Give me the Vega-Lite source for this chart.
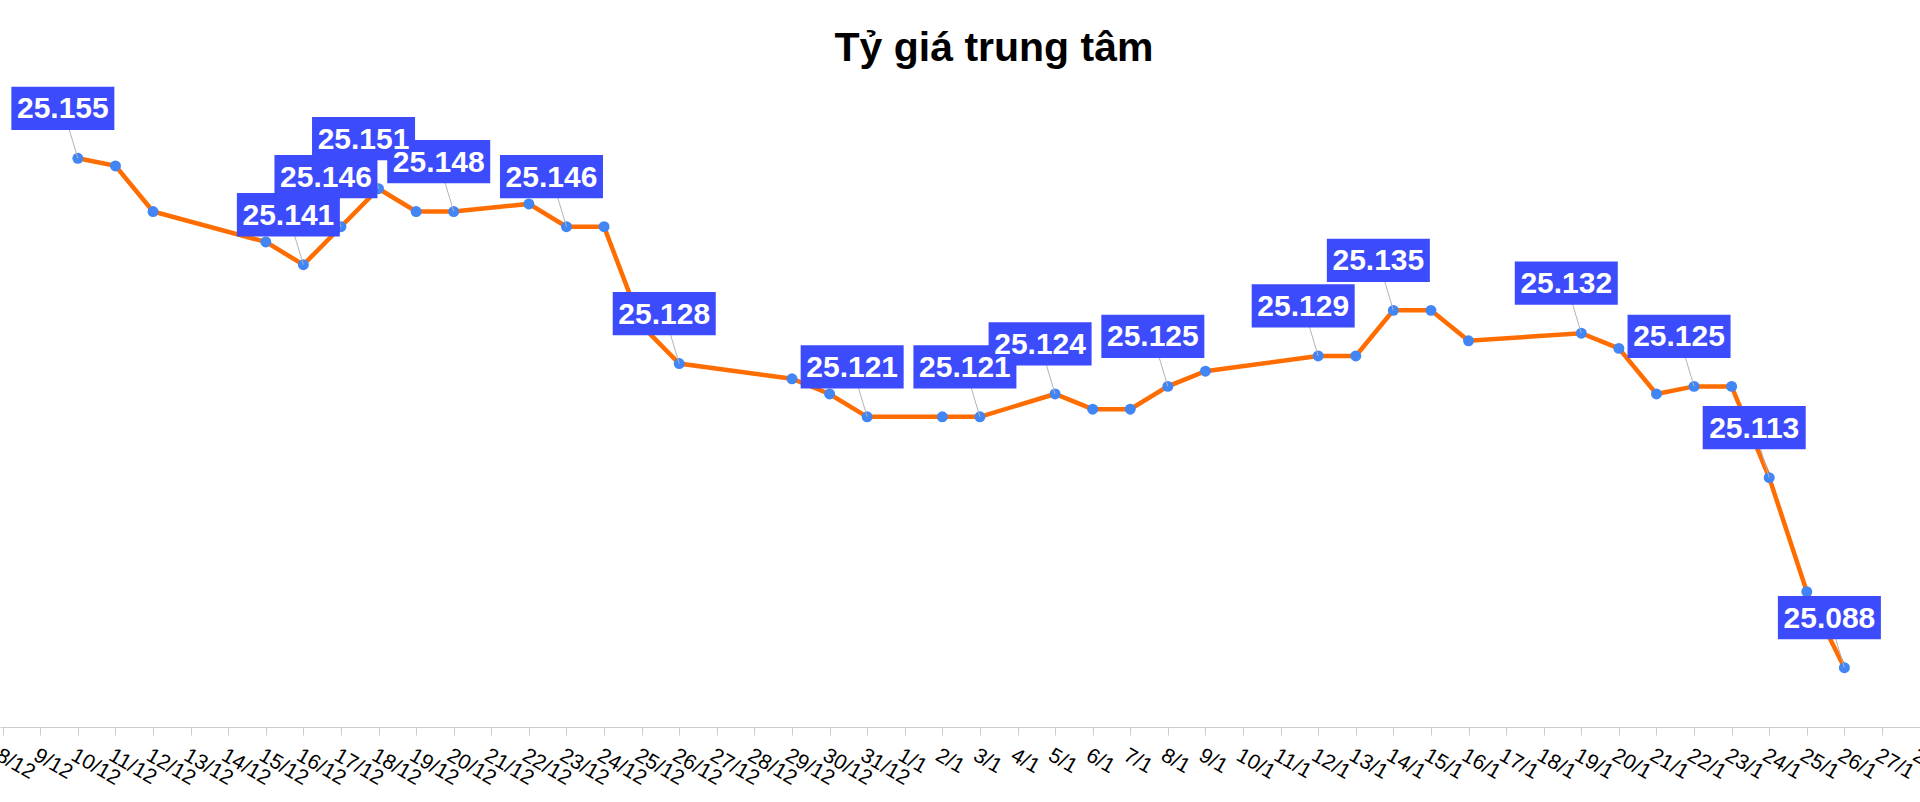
{
  "$schema": "https://vega.github.io/schema/vega-lite/v6.json",
  "width": 1920,
  "height": 667,
  "autosize": {"type": "none"},
  "padding": {"left": 0, "top": 60, "right": 0, "bottom": 75},
  "background": "white",
  "config": {"view": {"stroke": null}, "font": "Liberation Sans"},
  "title": {"text": "Tỷ giá trung tâm", "fontSize": 41, "fontWeight": "bold", "font": "Liberation Sans", "color": "#000000", "anchor": "middle", "dx": 34, "offset": -10},
  "data": {"values": [
    {"date": "2025-12-10", "value": 25.155, "label": true},
    {"date": "2025-12-11", "value": 25.154, "label": false},
    {"date": "2025-12-12", "value": 25.148, "label": false},
    {"date": "2025-12-15", "value": 25.144, "label": false},
    {"date": "2025-12-16", "value": 25.141, "label": true},
    {"date": "2025-12-17", "value": 25.146, "label": true},
    {"date": "2025-12-18", "value": 25.151, "label": true},
    {"date": "2025-12-19", "value": 25.148, "label": false},
    {"date": "2025-12-20", "value": 25.148, "label": true},
    {"date": "2025-12-22", "value": 25.149, "label": false},
    {"date": "2025-12-23", "value": 25.146, "label": true},
    {"date": "2025-12-24", "value": 25.146, "label": false},
    {"date": "2025-12-25", "value": 25.133, "label": false},
    {"date": "2025-12-26", "value": 25.128, "label": true},
    {"date": "2025-12-29", "value": 25.126, "label": false},
    {"date": "2025-12-30", "value": 25.124, "label": false},
    {"date": "2025-12-31", "value": 25.121, "label": true},
    {"date": "2026-01-02", "value": 25.121, "label": false},
    {"date": "2026-01-03", "value": 25.121, "label": true},
    {"date": "2026-01-05", "value": 25.124, "label": true},
    {"date": "2026-01-06", "value": 25.122, "label": false},
    {"date": "2026-01-07", "value": 25.122, "label": false},
    {"date": "2026-01-08", "value": 25.125, "label": true},
    {"date": "2026-01-09", "value": 25.127, "label": false},
    {"date": "2026-01-12", "value": 25.129, "label": true},
    {"date": "2026-01-13", "value": 25.129, "label": false},
    {"date": "2026-01-14", "value": 25.135, "label": true},
    {"date": "2026-01-15", "value": 25.135, "label": false},
    {"date": "2026-01-16", "value": 25.131, "label": false},
    {"date": "2026-01-19", "value": 25.132, "label": true},
    {"date": "2026-01-20", "value": 25.130, "label": false},
    {"date": "2026-01-21", "value": 25.124, "label": false},
    {"date": "2026-01-22", "value": 25.125, "label": true},
    {"date": "2026-01-23", "value": 25.125, "label": false},
    {"date": "2026-01-24", "value": 25.113, "label": true},
    {"date": "2026-01-25", "value": 25.098, "label": false},
    {"date": "2026-01-26", "value": 25.088, "label": true}
  ]},
  "encoding": {
    "x": {
      "field": "date",
      "type": "temporal",
      "scale": {"type": "utc", "domain": [
        {"year": 2025, "month": 12, "date": 7, "hours": 22, "minutes": 17, "utc": true},
        {"year": 2026, "month": 1, "date": 28, "hours": 0, "minutes": 17, "utc": true}
      ]},
      "axis": {
        "title": null,
        "tickCount": {"interval": "day", "step": 1},
        "labelExpr": "utcFormat(datum.value, '%-d/%-m')",
        "labelAngle": 30,
        "labelAlign": "left",
        "labelBaseline": "top",
        "labelFontSize": 21,
        "labelColor": "#000000",
        "labelFont": "Liberation Sans",
        "labelOverlap": false,
        "labelFlush": false,
        "labelBound": false,
        "labelPadding": 9,
        "tickSize": 8,
        "tickColor": "#cccccc",
        "domainColor": "#cccccc",
        "grid": false
      }
    },
    "y": {
      "field": "value",
      "type": "quantitative",
      "scale": {"domain": [25.0802, 25.16793], "zero": false, "nice": false},
      "axis": null
    }
  },
  "layer": [
    {"mark": {"type": "line", "color": "#ff6d00", "strokeWidth": 4.5}, "encoding": {}},
    {"mark": {"type": "circle", "color": "#4285f4", "size": 120, "opacity": 1}, "encoding": {}},
    {
      "transform": [{"filter": "datum.label"}],
      "mark": {"type": "rule", "color": "#b3b3b3", "strokeWidth": 1, "x2Offset": -15, "y2Offset": -50},
      "encoding": {"x2": {"field": "date"}, "y2": {"field": "value"}}
    },
    {
      "transform": [{"filter": "datum.label"}],
      "mark": {"type": "point", "shape": "M-1,-0.42H1V0.42H-1Z", "filled": true, "color": "#3c4bfc", "opacity": 1, "size": 10609, "xOffset": -15, "yOffset": -50, "strokeWidth": 0},
      "encoding": {}
    },
    {
      "transform": [{"filter": "datum.label"}],
      "mark": {"type": "text", "color": "#ffffff", "fontSize": 30, "fontWeight": "bold", "font": "Liberation Sans", "dx": -15, "dy": -49, "align": "center", "baseline": "middle"},
      "encoding": {"text": {"field": "value", "type": "quantitative", "format": ".3f"}}
    }
  ]
}
